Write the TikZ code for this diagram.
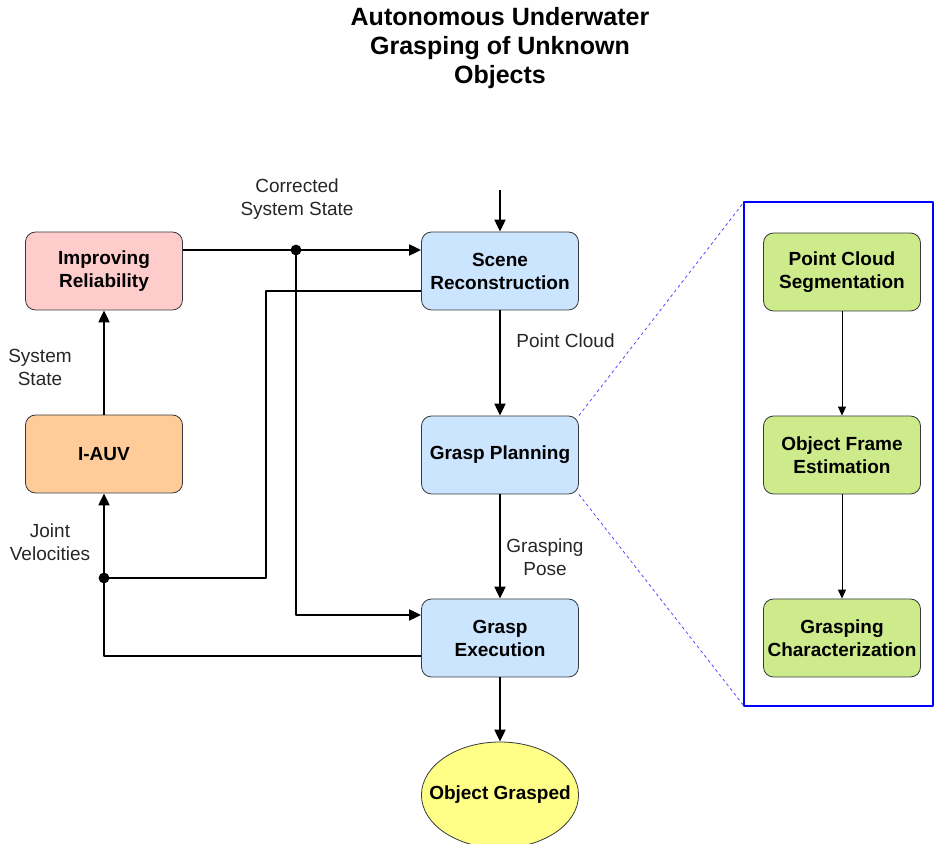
\documentclass[tikz,border=0pt]{standalone}
\usepackage{fontspec}
\setmainfont{Liberation Sans}
\usetikzlibrary{arrows.meta,shapes.geometric}

\definecolor{pinkfill}{HTML}{FFCCCC}
\definecolor{orangefill}{HTML}{FFCC99}
\definecolor{bluefill}{HTML}{CCE5FF}
\definecolor{greenfill}{HTML}{CDEB8B}
\definecolor{yellowfill}{HTML}{FFFF88}
\definecolor{edgegray}{HTML}{36393D}
\definecolor{panelblue}{HTML}{0000FF}

\begin{document}
\begin{tikzpicture}[
  x=0.5pt,
  y=-0.5pt,
  line join=round,
  block/.style={
    draw=edgegray,
    rounded corners=5pt,
    minimum width=78.5pt,
    minimum height=39pt,
    inner sep=0pt,
    align=center,
    font=\fontsize{9.5}{11.5}\selectfont\bfseries
  },
  goal/.style={
    ellipse,
    draw=edgegray,
    fill=yellowfill,
    minimum width=78.5pt,
    minimum height=53pt,
    inner xsep=-7.6pt,
    inner ysep=0pt,
    font=\fontsize{9.5}{11.5}\selectfont\bfseries
  },
  caption/.style={
    align=center,
    inner sep=0pt,
    text=black!85,
    font=\fontsize{9.5}{11.5}\selectfont
  },
  flow/.style={
    line width=1pt,
    -{Triangle[length=6pt,width=5.5pt]}
  },
  wire/.style={
    line width=1pt
  },
  thinflow/.style={
    line width=0.5pt,
    -{Triangle[length=4.5pt,width=4pt]}
  },
  zoomline/.style={
    panelblue!70,
    line width=0.4pt,
    dash pattern=on 1.5pt off 1.5pt
  }
]
  \useasboundingbox (0,0) rectangle (934,844);

  % Titel
  \node[align=center,
        font=\fontsize{12.5}{14.5}\selectfont\bfseries] (title)
    at (500,48) {Autonomous Underwater\\Grasping of Unknown\\Objects};

  % Hauptblöcke
  \node[block, fill=pinkfill] (reliab) at (104,271) {Improving\\Reliability};
  \node[block, fill=orangefill] (iauv) at (104,454) {I-AUV};
  \node[block, fill=bluefill] (scene) at (500,271) {Scene\\Reconstruction};
  \node[block, fill=bluefill] (plan) at (500,455) {Grasp Planning};
  \node[block, fill=bluefill] (exec) at (500,638) {Grasp\\Execution};
  \node[goal] (grasped) at (500,795) {Object Grasped};

  % Detailfenster
  \coordinate (panelTL) at (744,202);
  \coordinate (panelBR) at (933,706);
  \coordinate (panelBL) at (744,706);
  \draw[panelblue, line width=0.6pt] (panelTL) rectangle (panelBR);

  \node[block, fill=greenfill] (seg) at (842,272) {Point Cloud\\Segmentation};
  \node[block, fill=greenfill] (frame) at (842,455) {Object Frame\\Estimation};
  \node[block, fill=greenfill] (charact) at (842,638) {Grasping\\Characterization};

  \draw[zoomline] (plan.north east) -- (panelTL);
  \draw[zoomline] (plan.south east) -- (panelBL);

  % Hilfspunkte
  \coordinate (start) at (500,190);
  \coordinate (dotA) at (296,250);
  \coordinate (dotB) at (104,578);
  \coordinate (bend) at (266,578);

  % Verbindungen
  \draw[flow] (start) -- (scene);
  \draw[flow] (reliab.east |- dotA) -- (scene.west |- dotA);
  \draw[flow] (dotA) |- ([yshift=11.5pt]exec.west);
  \draw[wire] ([yshift=-10pt]scene.west) -| (bend) -- (dotB);
  \draw[flow] ([yshift=-9pt]exec.west) -| (iauv.south);
  \draw[flow] (iauv) -- (reliab);
  \draw[flow] (scene) -- (plan);
  \draw[flow] (plan) -- (exec);
  \draw[flow] (exec) -- (grasped);

  \draw[thinflow] (seg) -- (frame);
  \draw[thinflow] (frame) -- (charact);

  \fill (dotA) circle (2.7pt);
  \fill (dotB) circle (2.7pt);

  % Beschriftungen
  \node[caption] (corrected) at (297,199) {Corrected\\System State};
  \node[caption] (sysstate) at (40,367) {System\\State};
  \node[caption] (jointvel) at (50,542) {Joint\\Velocities};
  \node[caption, anchor=west] (pcloud) at (516,341) {Point Cloud};
  \node[caption] (gpose) at (545,557) {Grasping\\Pose};
\end{tikzpicture}
\end{document}
